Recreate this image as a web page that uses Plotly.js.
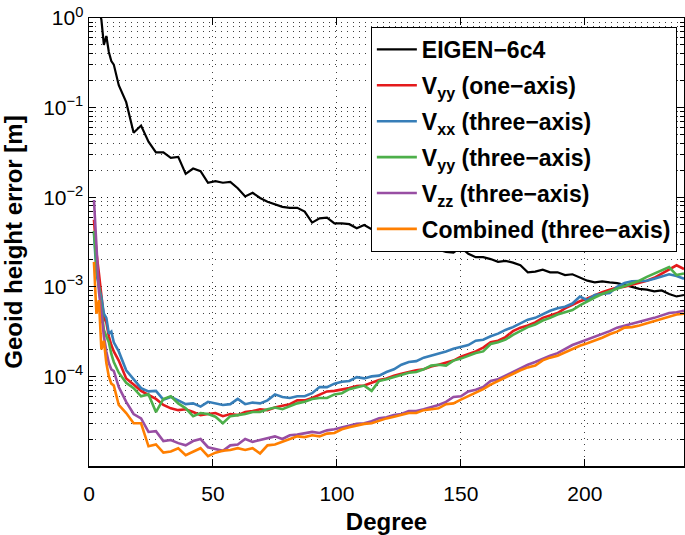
<!DOCTYPE html>
<html>
<head>
<meta charset="utf-8">
<script src="https://cdn.plot.ly/plotly-3.0.1.min.js"></script>
<style>html,body{margin:0;padding:0;background:#fff;}#chart{width:685px;height:535px;}</style>
</head>
<body>
<div id="chart"></div>
<script>
const degree = [2,3,4,5,6,7,8,9,10,12,15,18,21,24,27,30,33,36,39,42,45,48,51,54,57,60,63,66,69,72,75,78,81,84,87,90,93,96,99,102,105,108,111,114,117,120,123,126,129,132,135,138,141,144,147,150,153,156,159,162,165,168,171,174,177,180,183,186,189,192,195,198,201,204,207,210,213,216,219,222,225,228,231,234,237,240];

const eigen6c4 = [3.98,2.24,1.26,0.955,0.50,0.63,0.417,0.331,0.302,0.178,0.115,0.0525,0.0631,0.0417,0.0316,0.0316,0.0275,0.0282,0.0182,0.0209,0.0195,0.0145,0.0151,0.0145,0.0148,0.0126,0.0102,0.0112,0.0098,0.0089,0.0083,0.0078,0.0076,0.0076,0.0069,0.0052,0.0058,0.0059,0.0051,0.0051,0.0050,0.0045,0.0049,0.0044,0.0041,0.0039,0.0036,0.0035,0.0032,0.0030,0.00275,0.0028,0.0026,0.00245,0.0024,0.00275,0.00234,0.00214,0.00214,0.00204,0.0019,0.00195,0.00186,0.00174,0.00145,0.00148,0.00155,0.00145,0.00145,0.00135,0.00138,0.00126,0.00117,0.00112,0.00115,0.00112,0.0011,0.00105,0.0010,0.00095,0.00093,0.00089,0.00091,0.00083,0.00078,0.00081];

const vyyOneAxis = [5.6e-3,2.4e-3,1.41e-3,7.9e-4,4.5e-4,4.0e-4,2.8e-4,2.24e-4,1.9e-4,1.5e-4,9.5e-5,8.1e-5,6.9e-5,6.2e-5,5.6e-5,4.8e-5,4.4e-5,4.2e-5,4.3e-5,4.0e-5,3.7e-5,3.8e-5,3.9e-5,3.6e-5,3.8e-5,3.7e-5,4.0e-5,4.1e-5,4.3e-5,4.2e-5,4.5e-5,4.7e-5,4.9e-5,5.4e-5,5.4e-5,5.75e-5,6.2e-5,6.8e-5,6.9e-5,7.1e-5,7.4e-5,7.8e-5,7.9e-5,8.5e-5,9.1e-5,9.5e-5,1.02e-4,1.07e-4,1.12e-4,1.17e-4,1.2e-4,1.29e-4,1.35e-4,1.41e-4,1.5e-4,1.66e-4,1.78e-4,1.9e-4,2.1e-4,2.4e-4,2.5e-4,2.75e-4,3.2e-4,3.5e-4,3.7e-4,4.0e-4,4.5e-4,4.8e-4,5.1e-4,5.75e-4,6.3e-4,6.9e-4,7.4e-4,8.1e-4,8.7e-4,9.3e-4,9.8e-4,1.0e-3,1.05e-3,1.1e-3,1.17e-3,1.26e-3,1.41e-3,1.58e-3,1.74e-3,1.58e-3];

const vxxThreeAxis = [4.0e-3,1.41e-3,1.0e-3,7.6e-4,5.0e-4,4.5e-4,3.0e-4,3.16e-4,2.4e-4,1.9e-4,1.17e-4,9.3e-5,7.4e-5,6.8e-5,6.9e-5,5.5e-5,5.9e-5,5.4e-5,4.9e-5,5.0e-5,4.6e-5,5.2e-5,5.0e-5,4.8e-5,4.9e-5,5.6e-5,4.9e-5,5.1e-5,5.0e-5,5.4e-5,6.3e-5,5.9e-5,5.75e-5,6.0e-5,6.0e-5,6.5e-5,7.6e-5,7.6e-5,8.3e-5,8.7e-5,8.9e-5,9.8e-5,9.5e-5,1.0e-4,1.02e-4,1.12e-4,1.2e-4,1.35e-4,1.45e-4,1.48e-4,1.62e-4,1.7e-4,1.82e-4,1.9e-4,2.04e-4,2.14e-4,2.24e-4,2.5e-4,2.57e-4,2.8e-4,3.0e-4,3.3e-4,3.55e-4,3.9e-4,4.3e-4,4.5e-4,4.9e-4,5.4e-4,5.75e-4,6.0e-4,6.5e-4,7.8e-4,7.1e-4,8.1e-4,8.3e-4,8.5e-4,1.0e-3,1.1e-3,1.15e-3,1.15e-3,1.17e-3,1.23e-3,1.29e-3,1.38e-3,1.32e-3,1.23e-3];

const vyyThreeAxis = [4.2e-3,1.78e-3,1.0e-3,5.6e-4,3.3e-4,2.8e-4,2.4e-4,1.78e-4,1.45e-4,1.1e-4,8.5e-5,7.4e-5,6.0e-5,6.3e-5,4.0e-5,5.6e-5,6.0e-5,5.0e-5,4.4e-5,3.6e-5,3.9e-5,3.8e-5,3.55e-5,3.0e-5,3.6e-5,3.7e-5,3.8e-5,4.0e-5,4.0e-5,4.3e-5,4.5e-5,4.3e-5,4.6e-5,5.0e-5,5.2e-5,5.6e-5,5.75e-5,5.75e-5,6.3e-5,6.5e-5,7.2e-5,7.6e-5,7.9e-5,6.9e-5,8.9e-5,9.3e-5,9.8e-5,1.05e-4,1.1e-4,1.12e-4,1.2e-4,1.32e-4,1.35e-4,1.32e-4,1.5e-4,1.58e-4,1.7e-4,1.82e-4,1.9e-4,2.3e-4,2.4e-4,2.57e-4,2.9e-4,3.2e-4,3.55e-4,3.8e-4,4.2e-4,4.5e-4,4.9e-4,5.2e-4,5.5e-4,6.2e-4,6.9e-4,7.6e-4,8.3e-4,8.9e-4,9.5e-4,1.02e-3,1.1e-3,1.17e-3,1.29e-3,1.41e-3,1.51e-3,1.66e-3,1.35e-3,1.41e-3];

const vzzThreeAxis = [9.3e-3,2.5e-3,8.9e-4,5.2e-4,2.8e-4,1.9e-4,1.41e-4,1.2e-4,1.15e-4,7.6e-5,5.2e-5,3.8e-5,3.4e-5,2.4e-5,2.45e-5,1.9e-5,1.95e-5,1.8e-5,1.7e-5,1.9e-5,2.0e-5,1.62e-5,1.55e-5,1.48e-5,1.7e-5,1.74e-5,2.0e-5,1.86e-5,1.95e-5,2.04e-5,2.14e-5,2.0e-5,2.2e-5,2.24e-5,2.3e-5,2.4e-5,2.34e-5,2.5e-5,2.57e-5,2.7e-5,2.8e-5,2.95e-5,3.0e-5,3.16e-5,3.4e-5,3.5e-5,3.7e-5,3.8e-5,4.1e-5,4.1e-5,4.3e-5,4.5e-5,4.8e-5,5.2e-5,5.9e-5,6.0e-5,6.8e-5,7.1e-5,7.6e-5,8.9e-5,9.3e-5,1.02e-4,1.12e-4,1.23e-4,1.35e-4,1.45e-4,1.58e-4,1.7e-4,1.82e-4,2.04e-4,2.24e-4,2.4e-4,2.57e-4,2.75e-4,2.95e-4,3.2e-4,3.5e-4,3.7e-4,3.9e-4,4.1e-4,4.3e-4,4.5e-4,4.8e-4,5.1e-4,5.2e-4,5.4e-4];

const combinedThreeAxis = [1.9e-3,5.0e-4,7.1e-4,2.0e-4,2.5e-4,1.41e-4,1.0e-4,8.3e-5,7.9e-5,4.8e-5,3.9e-5,3.0e-5,3.0e-5,1.66e-5,1.74e-5,1.41e-5,1.45e-5,1.58e-5,1.32e-5,1.45e-5,1.58e-5,1.29e-5,1.41e-5,1.48e-5,1.51e-5,1.58e-5,1.51e-5,1.58e-5,1.38e-5,1.7e-5,1.74e-5,1.86e-5,2.0e-5,2.14e-5,2.1e-5,2.2e-5,2.14e-5,2.3e-5,2.34e-5,2.57e-5,2.7e-5,2.8e-5,2.95e-5,3.0e-5,3.2e-5,3.4e-5,3.55e-5,3.7e-5,3.9e-5,3.9e-5,4.2e-5,4.3e-5,4.4e-5,4.9e-5,5.0e-5,5.5e-5,6.0e-5,6.6e-5,7.2e-5,8.1e-5,8.9e-5,9.8e-5,1.07e-4,1.17e-4,1.26e-4,1.32e-4,1.51e-4,1.62e-4,1.7e-4,1.86e-4,2.04e-4,2.2e-4,2.34e-4,2.5e-4,2.7e-4,2.95e-4,3.16e-4,3.5e-4,3.55e-4,3.7e-4,3.9e-4,4.1e-4,4.4e-4,4.6e-4,4.9e-4,5.0e-4];

const seriesNames = ['EIGEN\u22126c4','V<sub>yy</sub> (one\u2212axis)','V<sub>xx</sub> (three\u2212axis)','V<sub>yy</sub> (three\u2212axis)','V<sub>zz</sub> (three\u2212axis)','Combined (three\u2212axis)'];
const seriesColors = ['#000000','#e41a1c','#377eb8','#4daf4a','#984ea3','#ff7f00'];
const seriesValues = [eigen6c4, vyyOneAxis, vxxThreeAxis, vyyThreeAxis, vzzThreeAxis, combinedThreeAxis];

const xTickVals = [0,50,100,150,200];
const yTickVals = [1e-4,1e-3,1e-2,1e-1,1];
const yTickText = ['10<sup>\u22124</sup>','10<sup>\u22123</sup>','10<sup>\u22122</sup>','10<sup>\u22121</sup>','10<sup>0</sup>'];

const FONT = '"Liberation Sans", Arial, Helvetica, sans-serif';
const traces = seriesValues.map((vals, i) => ({
  x: degree, y: vals, type: 'scatter', mode: 'lines', name: seriesNames[i],
  legendgroup: 'g' + i,
  line: {color: seriesColors[i], width: i === 0 ? 2.2 : 2.6}
}));

const gridColor = 'rgba(0,0,0,0.75)';
const gridDash = '1px,5px';
const layout = {
  width: 685, height: 535,
  margin: {l: 89, r: 1, t: 18, b: 69},
  paper_bgcolor: '#fff', plot_bgcolor: '#fff',
  font: {family: FONT, size: 21, color: '#000'},
  showlegend: true,
  legend: {
    x: 0.988, y: 0.98, xanchor: 'right', yanchor: 'top',
    bgcolor: '#fff', bordercolor: '#000', borderwidth: 1,
    font: {family: FONT, size: 23, color: '#000', weight: 'bold'},
    tracegroupgap: 3, itemwidth: 40
  },
  xaxis: {
    range: [0, 240], tickmode: 'array', tickvals: xTickVals,
    ticks: 'inside', ticklen: 7, tickwidth: 1, tickcolor: '#000',
    showline: true, linecolor: '#000', linewidth: 1.5, mirror: 'allticks',
    showgrid: true, gridcolor: gridColor, griddash: gridDash, gridwidth: 1,
    zeroline: false, ticklabelstandoff: 8,
    tickfont: {family: FONT, size: 21},
    title: {text: 'Degree', font: {family: FONT, size: 24, weight: 'bold'}, standoff: 12}
  },
  yaxis: {
    type: 'log', range: [-5, 0], tickmode: 'array', tickvals: yTickVals, ticktext: yTickText,
    ticks: 'inside', ticklen: 7, tickwidth: 1, tickcolor: '#000',
    showline: true, linecolor: '#000', linewidth: 1.5, mirror: 'allticks',
    showgrid: true, gridcolor: gridColor, griddash: gridDash, gridwidth: 1,
    zeroline: false,
    minor: {dtick: 'D1', ticks: 'inside', ticklen: 4, tickcolor: '#000', showgrid: true, gridcolor: gridColor, griddash: gridDash, gridwidth: 1},
    tickfont: {family: FONT, size: 21},
    title: {text: 'Geoid height error [m]', font: {family: FONT, size: 24, weight: 'bold'}, standoff: 14}
  }
};

Plotly.newPlot('chart', traces, layout, {displayModeBar: false, staticPlot: true});
</script>
</body>
</html>
